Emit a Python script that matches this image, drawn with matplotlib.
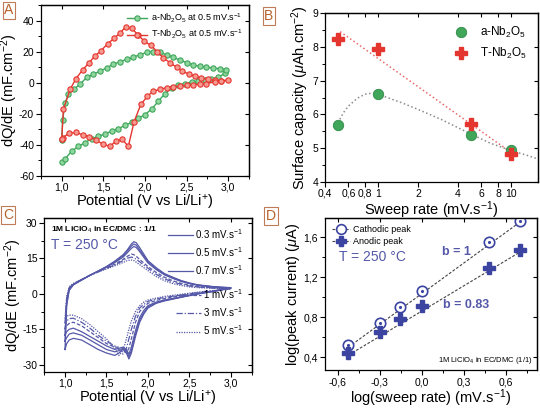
import matplotlib
matplotlib.use("Agg")
import matplotlib.pyplot as plt
from matplotlib.ticker import AutoMinorLocator, FuncFormatter, FixedLocator, NullLocator
from matplotlib.lines import Line2D

plt.rcParams['font.family'] = ['Liberation Sans', 'DejaVu Sans']
plt.rcParams['mathtext.fontset'] = 'custom'
plt.rcParams['mathtext.rm'] = 'Liberation Sans'
plt.rcParams['mathtext.it'] = 'Liberation Sans:italic'
plt.rcParams['mathtext.bf'] = 'Liberation Sans:bold'
plt.rcParams['axes.unicode_minus'] = False
plt.rcParams['axes.linewidth'] = 0.9

# ---- panel A : CV at 0.5 mV/s ----
a_nb_v = [1.0, 1.04, 1.12, 1.2, 1.28, 1.36, 1.44, 1.52, 1.6, 1.68, 1.76, 1.84, 1.92, 2.0, 2.08, 2.16, 2.24, 2.32,
          2.4, 2.48, 2.56, 2.64, 2.72, 2.8, 2.88, 2.96, 2.98, 2.9, 2.82, 2.74, 2.66, 2.58, 2.5, 2.42, 2.34, 2.26,
          2.18, 2.1, 2.02, 1.94, 1.86, 1.78, 1.7, 1.62, 1.54, 1.46, 1.38, 1.3, 1.22, 1.15, 1.08, 1.04, 1.01, 1.0]
a_nb_q = [-51, -49, -44, -41, -38.5, -36, -34.5, -33, -31, -29.5, -27.5, -25.5, -23, -20.5, -17, -12, -7, -3.5,
          -1.5, -0.5, 0.4, 1, 1.8, 2.5, 3.5, 6, 8.5, 9, 9.5, 10, 10.5, 11.5, 13, 14.5, 16.5, 18, 19.5, 20, 19.5,
          18, 16.5, 15, 13.5, 12, 9.5, 7.5, 5.5, 3.5, -1, -4, -7.5, -13, -24, -37]

t_nb_v = [1.0, 1.02, 1.1, 1.17, 1.25, 1.33, 1.4, 1.47, 1.55, 1.63, 1.7, 1.77, 1.84, 1.92, 1.99, 2.07, 2.15, 2.22,
          2.3, 2.38, 2.45, 2.53, 2.6, 2.68, 2.76, 2.84, 2.92, 3.0, 2.92, 2.84, 2.74, 2.66, 2.58, 2.5, 2.42, 2.34,
          2.26, 2.18, 2.1, 2.03, 1.95, 1.87, 1.8, 1.73, 1.65, 1.58, 1.49, 1.41, 1.33, 1.25, 1.17, 1.09, 1.01, 1.0]
t_nb_q = [-36, -17, -4.3, 2.6, 8.2, 13, 17.3, 20.5, 25, 28.6, 32, 36, 35, 30.7, 26.8, 24, 20, 16,
          13, 10, 7.6, 5.4, 4.3, 3, 2.2, 1.5, 1, 1.7, 1.3, 0.5, -0.5, -1, -1.3, -1.7, -2.2, -2.6,
          -3.2, -4.3, -5.4, -8.7, -14, -25, -41, -36.5, -37.5, -41, -39.4, -36.8, -34.6, -33.5, -32, -32.5, -35.3, -36]

# ---- panel B : surface capacity ----
sweep_b = [0.5, 1.0, 5.0, 10.0]
cap_a = [5.68, 6.6, 5.4, 4.95]
cap_t = [8.23, 7.95, 5.72, 4.82]
trend_a_x = [0.5, 0.55, 0.6, 0.7, 0.8, 0.9, 1.0, 1.5, 2, 3, 5, 7, 10, 13, 16]
trend_a_y = [5.75, 6.05, 6.25, 6.48, 6.6, 6.63, 6.6, 6.35, 6.15, 5.85, 5.42, 5.15, 4.93, 4.8, 4.68]
trend_t_x = [0.52, 10.0]
trend_t_y = [8.45, 4.88]

# ---- panel C : CVs at several sweep rates ----
c_labels = ['0.3', '0.5', '0.7', '1', '3', '5']
c_styles = ['-', '-', '-', (0, (3, 1.5)), (0, (5, 1.5, 1, 1.5)), (0, (1, 1))]
v_an = [1.0, 1.02, 1.05, 1.1, 1.2, 1.3, 1.4, 1.5, 1.6, 1.7, 1.75, 1.8, 1.83, 1.86, 1.9, 2.0, 2.1, 2.2, 2.3,
        2.4, 2.5, 2.6, 2.8, 3.0]
q_an = [
    [-23.5, -5, 1.5, 3.8, 5.8, 7.8, 9.6, 11.5, 13.8, 16.5, 18.5, 21, 22, 21.5, 19.5, 14, 11, 8.5, 7, 5.6, 4.6, 3.8, 3.0, 2.6],
    [-20, -4, 1.5, 3.8, 5.8, 7.8, 9.6, 11.4, 13.5, 16, 18, 20.2, 21, 20.5, 18.5, 13.5, 10.5, 8.2, 6.7, 5.4, 4.4, 3.7, 2.9, 2.5],
    [-17.5, -3, 2, 4, 6, 7.8, 9.6, 11.3, 13.2, 15.5, 17.3, 19.2, 20, 19.5, 17.8, 13, 10.2, 8, 6.5, 5.2, 4.3, 3.6, 2.8, 2.4],
    [-15, -3, 2, 4, 6, 7.8, 9.4, 11, 12.5, 14.5, 15.8, 16.8, 16.5, 15.8, 14.5, 11.5, 9, 7, 5.5, 4.4, 3.6, 3.1, 2.5, 2.3],
    [-12.5, -2, 2.5, 4.2, 6, 7.8, 9.3, 10.8, 12.2, 14, 15, 15.5, 15.2, 14.5, 13.5, 10.8, 8.2, 6.3, 5, 4, 3.3, 2.9, 2.4, 2.2],
    [-10.5, -1, 3, 4.4, 6, 7.8, 9.2, 10.5, 11.8, 13.2, 14, 14.3, 14, 13.3, 12.3, 9.8, 7.3, 5.5, 4.3, 3.5, 2.9, 2.6, 2.3, 2.1],
]
v_cat = [3.0, 2.8, 2.6, 2.4, 2.2, 2.1, 2.0, 1.95, 1.9, 1.85, 1.8, 1.77, 1.74, 1.7, 1.65, 1.6, 1.5, 1.4, 1.3,
         1.2, 1.1, 1.05, 1.02, 1.0]
q_cat = [
    [2.6, 1.2, 0, -1.5, -3, -4, -6, -8.5, -12, -18, -25, -27.5, -25, -23.5, -25, -26, -25, -23.5, -21.5, -19.5, -18.8, -19.5, -21, -23.5],
    [2.5, 1.1, 0, -1.4, -2.8, -3.8, -5.5, -8, -11, -17, -24, -26.5, -24, -23, -24, -24.5, -23.5, -21.5, -19.5, -17.5, -16.5, -17, -18.5, -20],
    [2.4, 1.0, 0, -1.3, -2.6, -3.5, -5, -7, -10, -15.5, -22.5, -25.5, -23.5, -22.5, -23, -23.5, -22, -20, -18, -16, -14.5, -15, -16, -17.5],
    [2.3, 1.2, 0.3, -0.8, -2, -2.8, -4, -5.5, -7.5, -12, -19, -23, -25, -23, -22.5, -22.5, -21, -18.5, -16, -13.5, -12, -12.5, -13.5, -15],
    [2.2, 1.3, 0.5, -0.5, -1.5, -2.2, -3.2, -4.5, -6, -9.5, -15, -19, -23, -25.5, -23.5, -22, -20, -17.5, -14.5, -12, -10.3, -10.5, -11.5, -12.5],
    [2.1, 1.4, 0.7, -0.2, -1.1, -1.8, -2.6, -3.5, -5, -7.5, -11.5, -15, -19, -24, -26, -23, -19, -16, -13, -10.5, -9, -9, -9.5, -10.5],
]

# ---- panel D : log(peak current) vs log(sweep rate) ----
log_rate = [-0.523, -0.301, -0.155, 0.0, 0.477, 0.699]
log_cath = [0.52, 0.74, 0.90, 1.06, 1.55, 1.76]
log_anod = [0.44, 0.65, 0.78, 0.91, 1.29, 1.47]
fit_x = [-0.523, 0.699]
fit_cath = [0.50, 1.75]
fit_anod = [0.42, 1.45]

GREEN = '#3fa65a'
RED = '#e5352f'
BLUE = '#5558a8'
DBLUE = '#3b44a0'
BOX = '#c07a55'
LBL = 10.5


def comma(fmt):
    return FuncFormatter(lambda v, p: (fmt % v).replace('.', ','))


def frame(ax, xminor=True, yminor=True):
    ax.tick_params(which='both', direction='out', labelsize=7.5, pad=1.5)
    ax.tick_params(which='major', length=3.5, width=0.8)
    ax.tick_params(which='minor', length=2, width=0.7)
    if xminor:
        ax.xaxis.set_minor_locator(AutoMinorLocator(2))
    if yminor:
        ax.yaxis.set_minor_locator(AutoMinorLocator(2))
    top = ax.secondary_xaxis('top')
    top.tick_params(which='both', direction='in', labeltop=False, length=3, width=0.8)
    top.xaxis.set_major_locator(FixedLocator(ax.get_xticks()))
    top.xaxis.set_minor_locator(NullLocator())
    right = ax.secondary_yaxis('right')
    right.tick_params(which='both', direction='in', labelright=False, length=3, width=0.8)
    right.yaxis.set_major_locator(FixedLocator(ax.get_yticks()))
    right.yaxis.set_minor_locator(NullLocator())


fig = plt.figure(figsize=(5.4, 4.09), dpi=100)

# A
axA = fig.add_axes([0.0759, 0.5697, 0.385, 0.418])
axA.plot(a_nb_v, a_nb_q, '-o', color=GREEN, lw=1, ms=3.8, mfc='#8fd6a0', mec=GREEN, mew=0.8,
         label=r'a-Nb$_2$O$_5$ at 0.5 mV.s$^{-1}$')
axA.plot(t_nb_v, t_nb_q, '-o', color=RED, lw=1, ms=3.8, mfc='#f49a90', mec=RED, mew=0.8,
         label=r'T-Nb$_2$O$_5$ at 0.5 mV.s$^{-1}$')
axA.set_xlim(0.75, 3.25)
axA.set_ylim(-60, 50)
axA.set_xticks([1.0, 1.5, 2.0, 2.5, 3.0])
axA.set_yticks([-60, -40, -20, 0, 20, 40])
axA.xaxis.set_major_formatter(comma('%.1f'))
axA.set_xlabel(r'Potential (V vs Li/Li$^{+}$)', fontsize=LBL, labelpad=0)
axA.set_ylabel(r'dQ/dE (mF.cm$^{-2}$)', fontsize=LBL, labelpad=-1)
axA.legend(loc='upper right', fontsize=6.5, frameon=False, handlelength=2.2, borderaxespad=0.3,
           handletextpad=0.4, labelspacing=0.4)
frame(axA)

# B
axB = fig.add_axes([0.6019, 0.555, 0.3944, 0.413])
axB.set_xscale('log')
axB.plot(trend_a_x, trend_a_y, ':', color='#8a8a8a', lw=1.1)
axB.plot(trend_t_x, trend_t_y, ':', color='#e86a6a', lw=1.1)
axB.plot(sweep_b, cap_a, 'o', ls='none', ms=7.5, color=GREEN, mec='#2f8a48', mew=0.6, label=r'a-Nb$_2$O$_5$')
axB.plot(sweep_b, cap_t, 'P', ls='none', ms=9, color=RED, mec=RED, label=r'T-Nb$_2$O$_5$')
axB.set_xlim(0.4, 16)
axB.set_ylim(4, 9)
axB.set_xticks([0.4, 0.6, 0.8, 1, 2, 4, 6, 8, 10])
axB.set_xticklabels(['0,4', '0,6', '0,8', '1', '2', '4', '6', '8', '10'])
axB.xaxis.set_minor_locator(NullLocator())
axB.set_yticks([4, 5, 6, 7, 8, 9])
axB.set_xlabel(r'Sweep rate (mV.s$^{-1}$)', fontsize=LBL, labelpad=0)
axB.set_ylabel(r'Surface capacity ($\mu$Ah.cm$^{-2}$)', fontsize=LBL, labelpad=1)
axB.legend(loc='upper right', fontsize=8.5, frameon=False, handletextpad=0.6, borderaxespad=0.6,
           labelspacing=0.5)
frame(axB, xminor=False)

# C
axC = fig.add_axes([0.082, 0.0905, 0.384, 0.3765])
c_lines = []
for lab, st, qa, qc in zip(c_labels, c_styles, q_an, q_cat):
    ln, = axC.plot(v_an + v_cat, qa + qc, color=BLUE, ls=st, lw=0.9, label=lab + r' mV.s$^{-1}$')
    c_lines.append(ln)
axC.set_xlim(0.75, 3.25)
axC.set_ylim(-33, 32)
axC.set_xticks([1.0, 1.5, 2.0, 2.5, 3.0])
axC.set_yticks([-30, -15, 0, 15, 30])
axC.xaxis.set_major_formatter(comma('%.1f'))
axC.set_xlabel(r'Potential (V vs Li/Li$^{+}$)', fontsize=LBL, labelpad=0)
axC.set_ylabel(r'dQ/dE (mF.cm$^{-2}$)', fontsize=LBL, labelpad=-1)
legC1 = axC.legend(handles=c_lines[:3], loc='upper right', fontsize=7, frameon=False, handlelength=2.6,
                   handletextpad=0.2, borderaxespad=0.5, labelspacing=0.45)
axC.add_artist(legC1)
axC.legend(handles=c_lines[3:], loc='lower right', fontsize=7, frameon=False, handlelength=2.6,
           handletextpad=0.2, bbox_to_anchor=(1.0, 0.17), labelspacing=0.45)
axC.text(0.03, 0.925, r'1M LiClO$_4$ in EC/DMC : 1/1', transform=axC.transAxes, fontsize=6,
         va='center', fontweight='bold')
axC.text(0.03, 0.825, 'T = 250 °C', transform=axC.transAxes, fontsize=10, color=BLUE, va='center')
frame(axC)

# D
dash = (0, (2.5, 1.5))
axD = fig.add_axes([0.6019, 0.095, 0.3926, 0.372])
axD.plot(fit_x, fit_cath, color='#444444', ls=dash, lw=0.8)
axD.plot(fit_x, fit_anod, color='#444444', ls=dash, lw=0.8)
axD.plot(log_rate, log_cath, 'o', ls='none', ms=7.5, mfc='white', mec=DBLUE, mew=1.2)
axD.plot(log_rate, log_cath, '.', ls='none', ms=2.5, color=DBLUE)
axD.plot(log_rate, log_anod, 'P', ls='none', ms=8, color=DBLUE, mec=DBLUE)
hD = [Line2D([], [], color='#444444', ls=dash, lw=0.8, marker='o', ms=7, mfc='white', mec=DBLUE, mew=1.2),
      Line2D([], [], color='#444444', ls=dash, lw=0.8, marker='P', ms=7.5, mfc=DBLUE, mec=DBLUE)]
axD.legend(hD, ['Cathodic peak', 'Anodic peak'], loc='upper left', fontsize=6.5, frameon=False,
           handlelength=2.0, handletextpad=0.3, borderaxespad=0.4, labelspacing=0.3)
axD.set_xlim(-0.69, 0.82)
axD.set_ylim(0.27, 1.79)
axD.set_xticks([-0.6, -0.3, 0.0, 0.3, 0.6])
axD.set_yticks([0.4, 0.8, 1.2, 1.6])
axD.xaxis.set_major_formatter(comma('%.1f'))
axD.yaxis.set_major_formatter(comma('%.1f'))
axD.set_xlabel(r'log(sweep rate) (mV.s$^{-1}$)', fontsize=LBL, labelpad=0)
axD.set_ylabel(r'log(peak current) ($\mu$A)', fontsize=LBL, labelpad=1)
axD.text(-0.593, 1.40, 'T = 250 °C', fontsize=10, color=BLUE, va='center')
axD.text(0.14, 1.45, 'b = 1', fontsize=9, color=BLUE, fontweight='bold', va='center')
axD.text(0.152, 0.92, 'b = 0.83', fontsize=9, color=BLUE, fontweight='bold', va='center')
axD.text(0.79, 0.37, r'1M LiClO$_4$ in EC/DMC (1/1)', fontsize=5.5, ha='right', va='center')
frame(axD)

for lab, x, y in [('A', 0.0167, 0.975), ('B', 0.498, 0.961), ('C', 0.0148, 0.474), ('D', 0.502, 0.472)]:
    fig.text(x, y, lab, fontsize=10, color='#b8602a', ha='center', va='center',
             bbox=dict(boxstyle='square,pad=0.12', fc='white', ec=BOX, lw=0.8))

fig.savefig('out.png', dpi=100)
